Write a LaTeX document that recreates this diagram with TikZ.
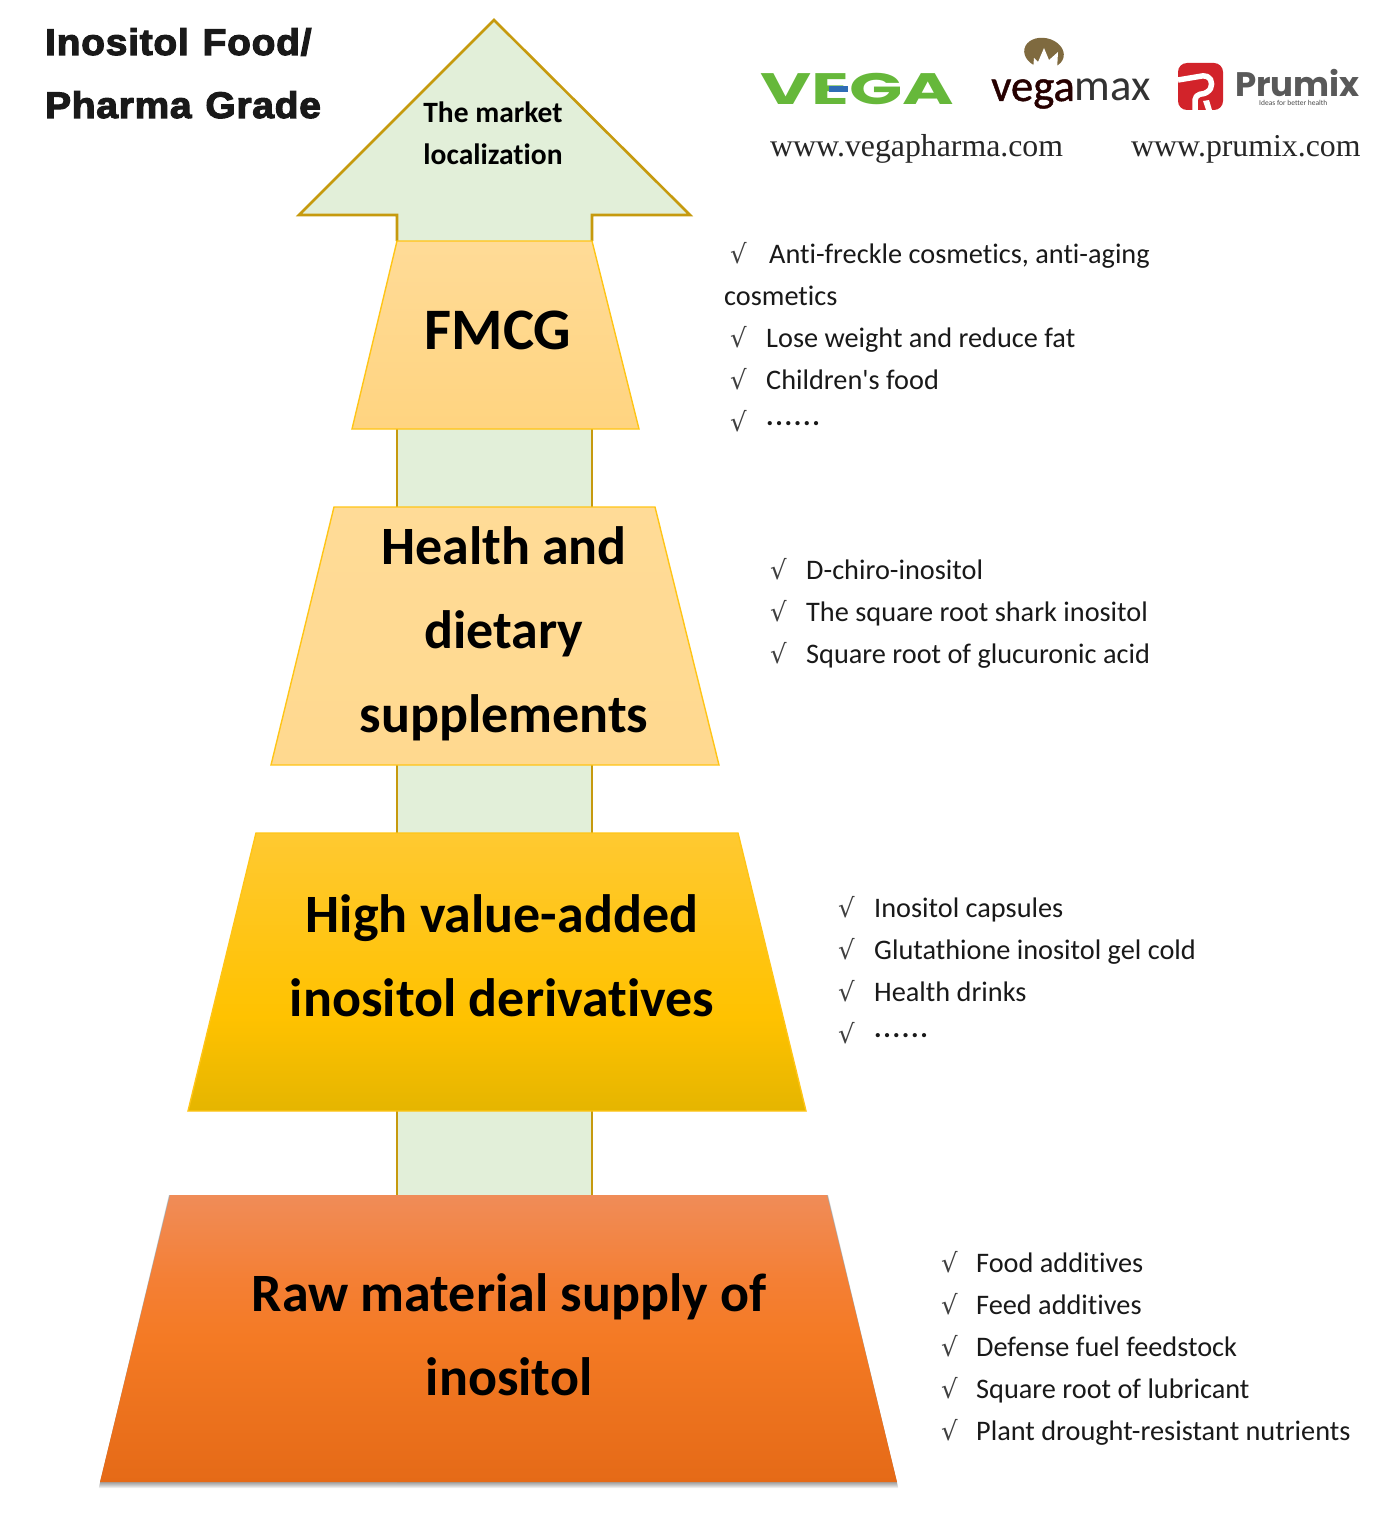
\documentclass[tikz,border=0pt]{standalone}
\usepackage{fontspec}
\setmainfont[Ligatures={NoCommon}]{Carlito}
\newfontfamily\titlefont[BoldFeatures={FakeBold=3},WordSpace=1.2,LetterSpace=2]{Liberation Sans}
\newfontfamily\urlfont{Liberation Serif}
\newfontfamily\markfont{DejaVu Sans}
\newfontfamily\logofont{Poppins}
\usepackage{xcolor}
\usepackage{tikz}
\usetikzlibrary{calc}
\definecolor{arrowfill}{HTML}{E2EFD9}
\definecolor{arrowedge}{HTML}{C69A0E}
\definecolor{leveledge}{HTML}{FFC516}
\definecolor{lightTop}{HTML}{FFDB97}
\definecolor{lightLow}{HTML}{FFD480}
\definecolor{lightMid}{HTML}{FFD98F}
\definecolor{goldTop}{HTML}{FFC931}
\definecolor{goldMid}{HTML}{FFC200}
\definecolor{goldLow}{HTML}{E5B500}
\definecolor{rawTop}{HTML}{F08C58}
\definecolor{rawUp}{HTML}{F47F34}
\definecolor{rawMid}{HTML}{F47A24}
\definecolor{rawLow}{HTML}{E56A17}
\definecolor{vegaGreen}{HTML}{66B83A}
\definecolor{vegaBlue}{HTML}{2F6DB5}
\definecolor{prumixRed}{HTML}{D2232A}
\definecolor{crownBrown}{HTML}{7F6A3F}
\pgfdeclareverticalshading{goldshade}{100bp}{color(0bp)=(goldLow); color(25bp)=(goldLow); color(42bp)=(goldMid); color(75bp)=(goldTop); color(100bp)=(goldTop)}
\pgfdeclareverticalshading{rawshade}{100bp}{color(0bp)=(rawLow); color(25bp)=(rawLow); color(50bp)=(rawMid); color(60bp)=(rawUp); color(75bp)=(rawTop); color(100bp)=(rawTop)}
\newcommand{\dotrow}{{\bfseries\addfontfeature{LetterSpace=6}......}}
\tikzset{
  leveltext/.style={font=\fontsize{54}{84}\selectfont\bfseries,align=center,inner sep=0pt,text=black},
  itemtext/.style={font=\fontsize{28.3}{42}\selectfont,anchor=base west,inner sep=0pt,text=black!90},
  checkmark/.style={font=\markfont\fontsize{26}{26}\selectfont,anchor=base west,inner sep=0pt,text=black!75,yshift=-2pt},
  urltext/.style={font=\urlfont\fontsize{31.8}{30}\selectfont,anchor=base west,inner sep=0pt,text=black!85},
  titletext/.style={font=\titlefont\bfseries\fontsize{37}{36}\selectfont,anchor=base west,inner sep=0pt,text=black!90,xscale=1.05,transform shape},
  leveledgeline/.style={draw=leveledge,line width=1.4pt}
}
\begin{document}
\begin{tikzpicture}[x=1pt,y=-1pt]
\useasboundingbox (0,0) rectangle (1385,1536);
\fill[white] (0,0) rectangle (1385,1536);
% big arrow behind the levels
\fill[arrowfill] (494,20) -- (690,215) -- (592,215) -- (592,1482) -- (397,1482) -- (397,215) -- (299,215) -- cycle;
\draw[arrowedge,line width=2.6pt,line join=miter] (397,241) -- (397,215) -- (299,215) -- (494,20) -- (690,215) -- (592,215) -- (592,241);
\draw[arrowedge,line width=1.6pt] (397,241) -- (397,1482) (592,241) -- (592,1482);
\node[font=\fontsize{29.5}{42}\selectfont\bfseries,align=center,inner sep=0pt] (market) at (493,133) {The market\\localization};
% title
\node[titletext] (title1) at (45,55) {Inositol Food/};
\node[titletext] (title2) at (45,118) {Pharma Grade};
% levels
\shade[top color=lightTop,bottom color=lightLow] (397,241) -- (592,241) -- (639,429) -- (352,429) -- cycle;
\draw[leveledgeline] (397,241) -- (592,241) -- (639,429) -- (352,429) -- cycle;
\shade[top color=lightTop,bottom color=lightMid] (334,507) -- (655,507) -- (719,765) -- (271,765) -- cycle;
\draw[leveledgeline] (334,507) -- (655,507) -- (719,765) -- (271,765) -- cycle;
\shade[shading=goldshade] (256,833) -- (738,833) -- (806,1111) -- (188,1111) -- cycle;
\draw[leveledgeline] (256,833) -- (738,833) -- (806,1111) -- (188,1111) -- cycle;
% soft shadow of the lowest level
\foreach \d in {1,2,...,6}
  \fill[black,opacity=0.07] ({170-\d*0.2},1195) -- ({827+\d*0.2},1195) -- ({897+\d*0.2},{1482+\d}) -- ({100-\d*0.2},{1482+\d}) -- cycle;
\shade[shading=rawshade] (170,1195) -- (827,1195) -- (897,1482) -- (100,1482) -- cycle;
\node[leveltext,font=\fontsize{58.8}{58}\selectfont\bfseries] (fmcg) at (498,330) {FMCG};
\node[leveltext] (health) at (504,633.5) {Health and\\dietary\\supplements};
\node[leveltext] (highvalue) at (502,956) {High value-added\\inositol derivatives};
\node[leveltext] (rawsupply) at (509,1335) {Raw material supply of\\inositol};
% lists on the right
\node[itemtext] (fmcg1) at (769,263) {Anti-freckle cosmetics, anti-aging};
\node[itemtext] (fmcg1b) at (724,305) {cosmetics};
\foreach \n/\x/\y/\t in {fmcg2/766/347/{Lose weight and reduce fat},fmcg3/766/389/{Children\textquotesingle s food},fmcg4/766/425/{\dotrow},
  health1/806/579/{D-chiro-inositol},health2/806/621/{The square root shark inositol},health3/806/663/{Square root of glucuronic acid},
  high1/874/917/{Inositol capsules},high2/874/959/{Glutathione inositol gel cold},high3/874/1001/{Health drinks},high4/874/1037/{\dotrow},
  raw1/976/1272/{Food additives},raw2/976/1314/{Feed additives},raw3/976/1356/{Defense fuel feedstock},raw4/976/1398/{Square root of lubricant},raw5/976/1440/{Plant drought-resistant nutrients}}
  \node[itemtext] (\n) at (\x,\y) {\t};
\foreach \n/\x/\y in {c1/730/261,c2/730/345,c3/730/387,c4/730/429,
  c5/770/577,c6/770/619,c7/770/661,
  c8/838/915,c9/838/957,c10/838/999,c11/838/1041,
  c12/941/1270,c13/941/1312,c14/941/1354,c15/941/1396,c16/941/1438}
  \node[checkmark] (\n) at (\x,\y) {√};
% urls
\node[urltext] (url1) at (770,157) {www.vegapharma.com};
\node[urltext] (url2) at (1131,157) {www.prumix.com};
% logo vega
\node[font=\logofont\bfseries\fontsize{44}{44}\selectfont,text=vegaGreen,inner sep=0pt,anchor=base west,xscale=1.59,transform shape] (vega) at (760,105) {VEGA};
\fill[vegaBlue] (829,86) rectangle (848,92);
% logo vegamax
\fill[crownBrown,rotate around={-12:(1044,53)}] (1044,53) ellipse (20 and 15);
\fill[white] (1033,70) -- (1034,58) -- (1038,62) -- (1044,48) -- (1049,60) -- (1058,52) -- (1057,70) -- cycle;
\node[font=\fontsize{44.7}{46}\selectfont,inner sep=0pt,anchor=base west,text=black!85!red] (vegamax) at (991,101) {{\addfontfeature{FakeBold=1}vega}\textcolor{black!80}{max}};
% logo prumix
\fill[prumixRed,rounded corners=9pt] (1178,63) -- (1223,63) -- (1223,110) -- (1178,110) -- cycle;
\draw[white,line width=5.5pt,line join=round,rounded corners=5pt] (1178,80) -- (1208,75) -- (1213,84) -- (1208,93) -- (1195,95) -- (1195,110);
\fill[white] (1203,101) -- (1209,100) -- (1212,110) -- (1206,110) -- cycle;
\node[font=\logofont\bfseries\fontsize{34}{34}\selectfont,text=black!65,inner sep=0pt,anchor=base west] (prumix) at (1235,97) {\smash{Prumix}};
\node[font=\fontsize{7.5}{8}\selectfont,text=black!70,inner sep=0pt,anchor=base west] (prumixtag) at (1259,106) {Ideas for better health};
\end{tikzpicture}
\end{document}
